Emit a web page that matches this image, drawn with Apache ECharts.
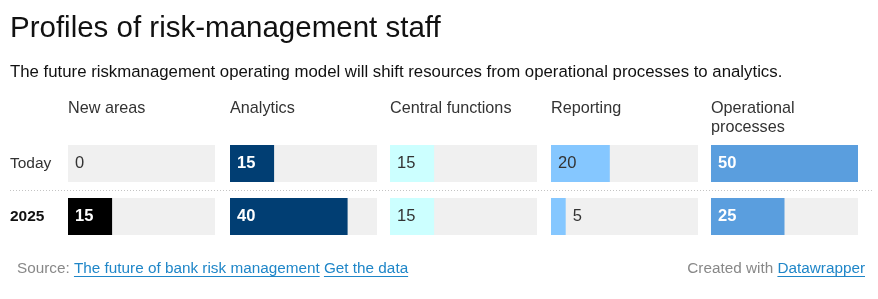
<!DOCTYPE html>
<html>
<head>
<meta charset="utf-8">
<script src="https://cdn.jsdelivr.net/npm/echarts@6/dist/echarts.min.js"></script>
<style>
html,body{margin:0;padding:0;background:#fff;}
#chart{width:878px;height:299px;}
</style>
</head>
<body>
<div id="chart"></div>
<script>
// ---- data ----
const categories = ['New areas', 'Analytics', 'Central functions', 'Reporting', 'Operational\nprocesses'];
const rowLabels = ['Today', '2025'];
const valuesToday = [0, 15, 15, 20, 50];
const values2025 = [15, 40, 15, 5, 25];
const axisMax = 50;
const titleText = 'Profiles of risk-management staff';
const subtitleText = 'The future riskmanagement operating model will shift resources from operational processes to analytics.';

// ---- styles / layout ----
const FONT = '"Liberation Sans", Arial, Helvetica, sans-serif';
const colLeft = [68, 230, 390, 551, 711];
const colWidth = 147;
const barColors = ['#000000', '#013e73', '#ccffff', '#85c7ff', '#5a9ede'];
const lightLabel = [true, true, false, false, true];
const linkColor = '#1f86c8';

const chart = echarts.init(document.getElementById('chart'), null, {renderer: 'canvas'});

const grids = [], xAxes = [], yAxes = [], series = [];
categories.forEach((cat, i) => {
  grids.push({left: colLeft[i], width: colWidth, top: 137, height: 106, containLabel: false});
  xAxes.push({type: 'value', gridIndex: i, min: 0, max: axisMax, show: false});
  yAxes.push({
    type: 'category', gridIndex: i, data: rowLabels, inverse: true,
    show: i === 0,
    axisLine: {show: false}, axisTick: {show: false}, splitLine: {show: false},
    axisLabel: {
      show: i === 0, margin: 58, align: 'left',
      formatter: (v, idx) => idx === 0 ? '{a|' + v + '}' : '{b|' + v + '}',
      rich: {
        a: {fontFamily: FONT, fontSize: 15.5, color: '#333'},
        b: {fontFamily: FONT, fontSize: 15.5, fontWeight: 'bold', color: '#111'}
      }
    }
  });
  const vals = [valuesToday[i], values2025[i]];
  series.push({
    type: 'bar', xAxisIndex: i, yAxisIndex: i, barWidth: 37,
    showBackground: true, backgroundStyle: {color: '#f0f0f0'},
    itemStyle: {color: barColors[i]},
    silent: true,
    data: vals.map(v => {
      const px = v / axisMax * colWidth;
      const outside = px < 28;
      const light = !outside && lightLabel[i];
      return {
        value: v,
        label: {
          show: true,
          position: outside ? 'right' : 'insideLeft',
          distance: 7,
          fontFamily: FONT, fontSize: 16.5,
          fontWeight: light ? 'bold' : 'normal',
          color: light ? '#ffffff' : '#333333'
        }
      };
    })
  });
});

// measure helper
const mctx = document.createElement('canvas').getContext('2d');
function tw(text, size, weight) {
  mctx.font = (weight || 'normal') + ' ' + size + 'px ' + FONT;
  return mctx.measureText(text).width;
}

const graphics = [];
// title & subtitle
graphics.push({type: 'text', x: 10, y: 28.5,
  style: {text: titleText, font: 'normal 29.5px ' + FONT, fill: '#111', verticalAlign: 'middle', align: 'left'}});
graphics.push({type: 'text', x: 10, y: 72.5,
  style: {text: subtitleText, font: 'normal 16.8px ' + FONT, fill: '#111', verticalAlign: 'middle', align: 'left'}});
// column headers
categories.forEach((cat, i) => {
  cat.split('\n').forEach((line, j) => {
    graphics.push({type: 'text', x: colLeft[i], y: 109 + j * 19,
      style: {text: line, font: 'normal 16.2px ' + FONT, fill: '#333', verticalAlign: 'middle', align: 'left'}});
  });
});
// dotted separator
graphics.push({type: 'line', shape: {x1: 10, y1: 190.5, x2: 872, y2: 190.5},
  style: {stroke: '#c4c4c4', lineWidth: 1, lineDash: [1, 2]}});

// footer
const fs = 15.3, fy = 269;
let fx = 17;
function footerText(text, color, underline) {
  graphics.push({type: 'text', x: fx, y: fy,
    style: {text: text, font: 'normal ' + fs + 'px ' + FONT, fill: color, verticalAlign: 'middle', align: 'left'}});
  const w = tw(text, fs);
  if (underline) {
    graphics.push({type: 'line', shape: {x1: fx, y1: fy + 7.5, x2: fx + w, y2: fy + 7.5},
      style: {stroke: color, lineWidth: 1}});
  }
  fx += w;
}
footerText('Source: ', '#888', false);
footerText('The future of bank risk management', linkColor, true);
footerText(' ', '#888', false);
footerText('Get the data', linkColor, true);

const createdW = tw('Created with ', fs), dwW = tw('Datawrapper', fs);
fx = 865 - createdW - dwW;
footerText('Created with ', '#888', false);
footerText('Datawrapper', linkColor, true);

chart.setOption({
  animation: false,
  backgroundColor: '#ffffff',
  grid: grids,
  xAxis: xAxes,
  yAxis: yAxes,
  series: series,
  graphic: graphics
});
</script>
</body>
</html>
